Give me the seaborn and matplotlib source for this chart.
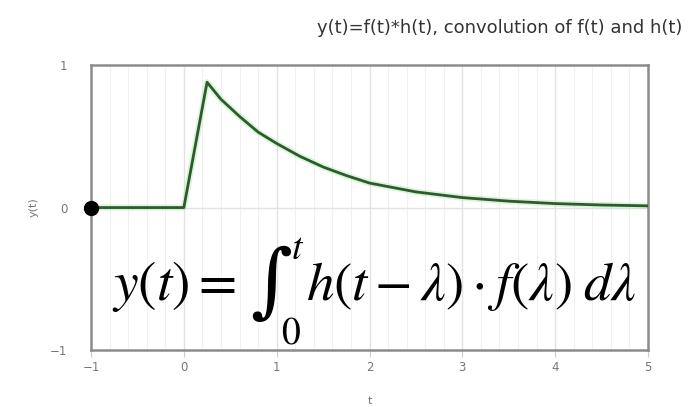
import matplotlib
matplotlib.use("Agg")
import matplotlib.pyplot as plt
from matplotlib.ticker import MultipleLocator
import seaborn as sns
import pandas as pd

# Convolution output y(t) sampled along t
t_vals = [-1.0, 0.0, 0.25, 0.4, 0.6, 0.8, 1.0, 1.25, 1.5, 1.75, 2.0, 2.5, 3.0, 3.5, 4.0, 4.5, 5.0]
y_vals = [0.0, 0.0, 0.88, 0.76, 0.64, 0.53, 0.45, 0.36, 0.285, 0.225, 0.172, 0.11, 0.07, 0.045, 0.028, 0.018, 0.012]
x_ticks = [-1, 0, 1, 2, 3, 4, 5]
y_ticks = [-1, 0, 1]
start_point = (-1.0, 0.0)

df = pd.DataFrame({"t": t_vals, "y(t)": y_vals})

sns.set_theme(style="white")
plt.rcParams["font.family"] = ["DejaVu Sans"]
plt.rcParams["mathtext.fontset"] = "stix"

W, H = 691, 407
fig = plt.figure(figsize=(W / 100, H / 100), dpi=100)
ax = fig.add_axes([0.1317, 0.140, 0.8061, 0.700])

# soft green halo under the curve
sns.lineplot(data=df, x="t", y="y(t)", ax=ax, color="#a8eea8", linewidth=4.5,
             alpha=0.45, zorder=2, estimator=None)
sns.lineplot(data=df, x="t", y="y(t)", ax=ax, color="#2f5a2f", linewidth=2,
             zorder=3, estimator=None)

ax.plot([start_point[0]], [start_point[1]], "o", color="black", markersize=10,
        clip_on=False, zorder=5)

ax.set_xlim(-1, 5)
ax.set_ylim(-1, 1)
ax.set_xticks(x_ticks)
ax.set_yticks(y_ticks)
ax.set_xticklabels(["\u22121" if v < 0 else str(v) for v in x_ticks])
ax.set_yticklabels(["\u22121" if v < 0 else str(v) for v in y_ticks])
ax.xaxis.set_minor_locator(MultipleLocator(0.2))

ax.grid(True, which="major", axis="x", color="#e2e2e2", linewidth=1.0, zorder=0)
ax.grid(True, which="minor", axis="x", color="#f0f0f0", linewidth=0.8, zorder=0)
ax.axhline(0, color="#e2e2e2", linewidth=1.0, zorder=1)

for s in ax.spines.values():
    s.set_color("#8c8c8c")
    s.set_linewidth(1.8)

ax.tick_params(axis="x", which="major", length=5, width=0.8, color="#cccccc",
               labelsize=8.5, labelcolor="#777777", pad=3, bottom=True)
ax.tick_params(axis="x", which="minor", length=0)
ax.tick_params(axis="y", length=0, labelsize=8.5, labelcolor="#777777", pad=17)

ax.set_xlabel("t", fontsize=8, color="#777777", labelpad=16)
ax.set_ylabel("y(t)", fontsize=8, color="#777777", labelpad=8)

fig.text(0.988, 0.93, "y(t)=f(t)*h(t), convolution of f(t) and h(t)",
         ha="right", va="center", fontsize=13, color="#333333")


def px(x, y):
    return x / W, 1 - y / H


# convolution integral written out on the plot
eq = dict(color="black", zorder=6)
fig.text(*px(112, 300), r"$y(t) =$", fontsize=40, ha="left", va="baseline", **eq)
fig.text(*px(271, 285), "\u222b", family="DejaVu Serif", fontsize=58,
         ha="center", va="center", **eq)
fig.text(*px(298, 249), r"$t$", fontsize=27, ha="center", va="center", **eq)
fig.text(*px(291, 334), r"$0$", fontsize=27, ha="center", va="center", **eq)
fig.text(*px(306, 300), r"$h(t-\lambda)\cdot f(\lambda)\;d\lambda$", fontsize=39.5,
         ha="left", va="baseline", **eq)

fig.savefig("out.png", dpi=100)
